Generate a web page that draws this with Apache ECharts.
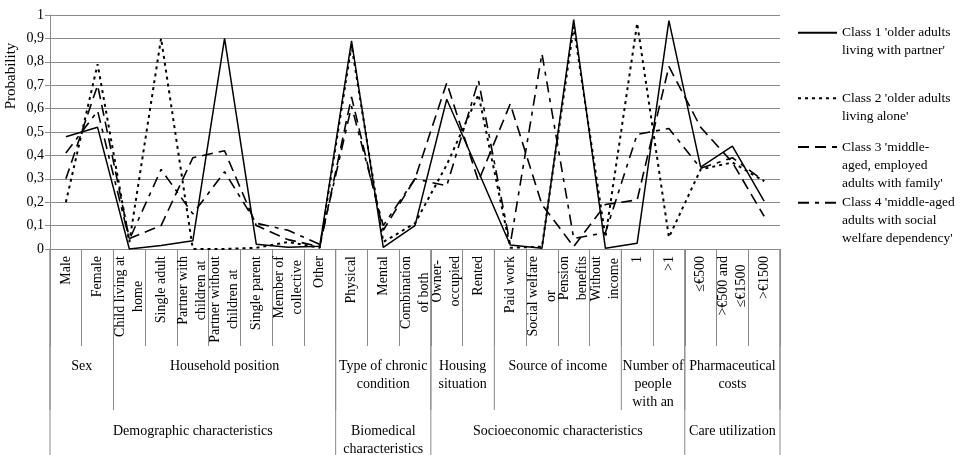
<!DOCTYPE html>
<html>
<head>
<meta charset="utf-8">
<script src="https://cdn.jsdelivr.net/npm/echarts@6/dist/echarts.min.js"></script>
<style>
  html, body { margin: 0; padding: 0; background: #ffffff; }
  #chart { width: 961px; height: 455px; }
</style>
</head>
<body>
<div id="chart"></div>
<script>
// Indicator categories (line breaks follow the wrapped axis labels)
const categories = [
  'Male', 'Female', 'Child living at\nhome', 'Single adult', 'Partner with\nchildren at',
  'Partner without\nchildren at', 'Single parent', 'Member of\ncollective', 'Other',
  'Physical', 'Mental', 'Combination\nof both', 'Owner-\noccupied', 'Rented',
  'Paid work', 'Social welfare\nor', 'Pension\nbenefits', 'Without\nincome',
  '1', '>1', '\u2264\u20ac500', '>\u20ac500 and\n\u2264\u20ac1500', '>\u20ac1500'
];

// Item-response probabilities per latent class
const class1 = [0.48, 0.52, 0.00, 0.015, 0.035, 0.90, 0.02, 0.007, 0.012, 0.89, 0.007, 0.10,
                0.64, 0.33, 0.017, 0.003, 0.98, 0.003, 0.025, 0.976, 0.35, 0.44, 0.205];
const class2 = [0.20, 0.79, 0.03, 0.90, 0.00, 0.00, 0.005, 0.03, 0.005, 0.87, 0.03, 0.11,
                0.36, 0.66, 0.005, 0.01, 0.95, 0.05, 0.965, 0.05, 0.34, 0.37, 0.29];
const class3 = [0.30, 0.70, 0.045, 0.10, 0.39, 0.42, 0.10, 0.04, 0.01, 0.65, 0.08, 0.30,
                0.71, 0.29, 0.62, 0.19, 0.01, 0.19, 0.21, 0.78, 0.52, 0.37, 0.14];
const class4 = [0.41, 0.59, 0.04, 0.34, 0.15, 0.33, 0.11, 0.08, 0.02, 0.61, 0.10, 0.30,
                0.27, 0.72, 0.02, 0.835, 0.045, 0.07, 0.49, 0.515, 0.345, 0.39, 0.29];

// Legend text, one entry per line
const classNames = [
  ["Class 1 'older adults", "living with partner'"],
  ["Class 2 'older adults", "living alone'"],
  ["Class 3 'middle-", "aged, employed", "adults with family'"],
  ["Class 4 'middle-aged", "adults with social", "welfare dependency'"]
];

// Y axis tick labels (decimal comma)
const yTickLabels = ['0', '0,1', '0,2', '0,3', '0,4', '0,5', '0,6', '0,7', '0,8', '0,9', '1'];
const yAxisTitle = 'Probability';

// Grouping rows under the category axis: [label, first index, last index]
const subGroups = [
  ['Sex', 0, 1],
  ['Household position', 2, 8],
  ['Type of chronic\ncondition', 9, 11],
  ['Housing\nsituation', 12, 13],
  ['Source of income', 14, 17],
  ['Number of\npeople\nwith an', 18, 19],
  ['Pharmaceutical\ncosts', 20, 22]
];
const mainGroups = [
  ['Demographic characteristics', 0, 8],
  ['Biomedical\ncharacteristics', 9, 11],
  ['Socioeconomic characteristics', 12, 19],
  ['Care utilization', 20, 22]
];

const FONT = '"Liberation Serif", "Times New Roman", serif';
const GRID = '#8a8a8a';
const LH = 18;

const seriesData = [class1, class2, class3, class4];
const dashes = ['solid', [3, 4], [11, 6], [11, 6, 4, 6]];
const widths = [1.5, 2, 1.6, 1.6];
const seriesNames = classNames.map(l => l.join(' '));

function groupRenderer(groups, lineDrop, textDrop) {
  return function (params, api) {
    const g = groups[params.dataIndex];
    const a = api.coord([api.value(0), 0]);
    const b = api.coord([api.value(1), 0]);
    const band = api.size([1, 0])[0];
    const x0 = a[0] - band / 2;
    const x1 = b[0] + band / 2;
    const y = a[1];
    const children = [{
      type: 'line',
      shape: { x1: x0, y1: y, x2: x0, y2: y + lineDrop },
      style: { stroke: GRID, lineWidth: 1 }
    }];
    if (params.dataIndex === groups.length - 1) {
      children.push({
        type: 'line',
        shape: { x1: x1, y1: y, x2: x1, y2: y + lineDrop },
        style: { stroke: GRID, lineWidth: 1 }
      });
    }
    children.push({
      type: 'text',
      style: {
        text: g[0], x: (x0 + x1) / 2, y: y + textDrop,
        align: 'center', verticalAlign: 'top',
        fontFamily: FONT, fontSize: 14, lineHeight: LH, fill: '#000'
      }
    });
    return { type: 'group', children: children };
  };
}

// Legend text is centred on its key; leading blank lines put the key beside the first line
function legendText(lines) {
  return '\n'.repeat(lines.length - 1) + lines.join('\n');
}

const legendTops = [5.7, 71.3, 102, 157.7];

const chart = echarts.init(document.getElementById('chart'), null, { renderer: 'canvas' });

const lineSeries = seriesData.map((d, i) => ({
  name: seriesNames[i],
  type: 'line',
  data: d,
  symbol: 'none',
  silent: true,
  z: 3,
  lineStyle: { color: '#000', width: widths[i], type: dashes[i], cap: 'butt' },
  itemStyle: { color: '#000' },
  emphasis: { disabled: true }
}));

const option = {
  animation: false,
  backgroundColor: '#ffffff',
  grid: { left: 50, right: 181, top: 15, bottom: 206, containLabel: false },
  xAxis: {
    type: 'category',
    data: categories,
    boundaryGap: true,
    axisLine: { show: true, lineStyle: { color: GRID, width: 1 } },
    axisTick: { show: true, interval: 0, length: 97, lineStyle: { color: GRID, width: 1 } },
    axisLabel: {
      interval: 0, rotate: 90, margin: 7, color: '#000',
      fontFamily: FONT, fontSize: 14, lineHeight: LH,
      formatter: v => v.split('\n').map(s => '{c|' + s + '}').join('\n'),
      rich: { c: { align: 'center', fontFamily: FONT, fontSize: 14, lineHeight: LH, color: '#000' } }
    },
    splitLine: { show: false }
  },
  yAxis: {
    type: 'value',
    min: 0, max: 1, interval: 0.1,
    axisLine: { show: true, lineStyle: { color: GRID, width: 1 } },
    axisTick: { show: true, length: 5, lineStyle: { color: GRID } },
    axisLabel: {
      margin: 6, color: '#000', fontFamily: FONT, fontSize: 14,
      formatter: v => yTickLabels[Math.round(v * 10)]
    },
    splitLine: { show: true, lineStyle: { color: GRID, width: 1 } }
  },
  legend: seriesNames.map((n, i) => ({
    data: [n],
    orient: 'vertical',
    left: 797,
    top: legendTops[i],
    padding: 0,
    itemWidth: 39,
    itemHeight: 12,
    selectedMode: false,
    itemStyle: { opacity: 0 },
    formatter: () => legendText(classNames[i]),
    textStyle: { fontFamily: FONT, fontSize: 13.5, lineHeight: LH, color: '#000' }
  })),
  graphic: [{
    type: 'text',
    x: 4, y: 76,
    rotation: Math.PI / 2,
    style: {
      text: yAxisTitle, align: 'center', verticalAlign: 'top',
      fontFamily: FONT, fontSize: 15, fill: '#000'
    }
  }],
  series: lineSeries.concat([
    {
      type: 'custom',
      silent: true,
      clip: false,
      renderItem: groupRenderer(subGroups, 161, 108),
      data: subGroups.map(g => [g[1], g[2]]),
      encode: { x: 0 },
      z: 1
    },
    {
      type: 'custom',
      silent: true,
      clip: false,
      renderItem: groupRenderer(mainGroups, 206, 173),
      data: mainGroups.map(g => [g[1], g[2]]),
      encode: { x: 0 },
      z: 1
    }
  ])
};

chart.setOption(option);
</script>
</body>
</html>
